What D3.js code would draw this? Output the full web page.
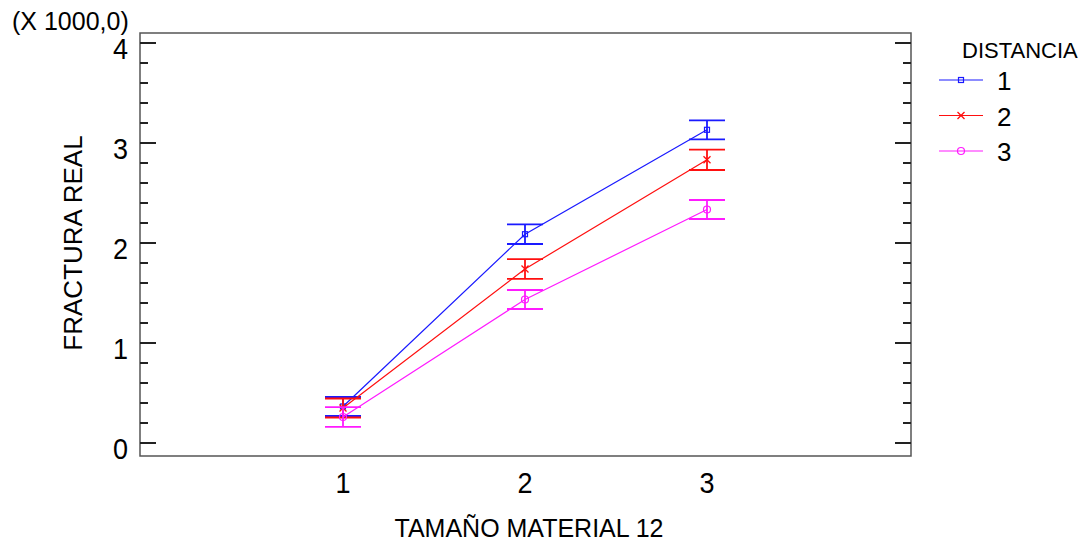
<!DOCTYPE html>
<html>
<head>
<meta charset="utf-8">
<script src="https://cdn.jsdelivr.net/npm/d3@7"></script>
<style>
	body { margin: 0; background: #fff; }
	text { font-family: "Liberation Sans", Arial, Helvetica, sans-serif; fill: #000; }
</style>
</head>
<body>
<svg id="chart" width="1090" height="544"></svg>
<script>

	// categories on the x axis (TAMAÑO MATERIAL 12)
	var sizes = [1, 2, 3];

	// series (DISTANCIA) and their means, in real units
	var distances = ['1', '2', '3'];
	var meanDist1 = [365, 2088, 3132];
	var meanDist2 = [350, 1740, 2832];
	var meanDist3 = [260, 1435, 2335];

	// half width of each interval
	var halfDist1 = [95, 98, 95];
	var halfDist2 = [95, 98, 102];
	var halfDist3 = [98, 95, 95];

	var yTicks = [0, 1000, 2000, 3000, 4000];

	var colorsList = ['#1a1aff', '#ff0f0f', '#ff1aff'];
	var markers = ['square', 'cross', 'circle'];

	var series = distances.map(function(d, i) {
		var means = [meanDist1, meanDist2, meanDist3][i];
		var halfs = [halfDist1, halfDist2, halfDist3][i];
		return {
			key: d,
			color: colorsList[i],
			marker: markers[i],
			values: sizes.map(function(s, j) {
				return { x: s, y: means[j], lo: means[j] - halfs[j], hi: means[j] + halfs[j] };
			})
		};
	});

	var svg = d3.select("#chart");

	var pLeft = 140, pRight = 911, pTop = 33, pBottom = 456;

	var x = d3.scaleLinear()
		.domain([1, 3])
		.range([343, 707]);

	var y = d3.scaleLinear()
		.domain([-130, 4100])
		.range([pBottom, pTop]);

	// frame
	svg.append("rect")
		.attr("x", pLeft)
		.attr("y", pTop)
		.attr("width", pRight - pLeft)
		.attr("height", pBottom - pTop)
		.style("fill", "none")
		.style("stroke", "#555")
		.style("stroke-width", 1.5);

	// ticks, left and right, major every 1000 and minor every 200
	var minor = d3.range(0, 4001, 200);
	var ticks = svg.append("g").attr("class", "ticks");
	minor.forEach(function(v) {
		var len = (v % 1000 == 0) ? 16 : 8;
		ticks.append("line")
			.attr("x1", pLeft).attr("x2", pLeft + len)
			.attr("y1", y(v)).attr("y2", y(v));
		ticks.append("line")
			.attr("x1", pRight).attr("x2", pRight - len)
			.attr("y1", y(v)).attr("y2", y(v));
	});
	ticks.selectAll("line")
		.style("stroke", "#222")
		.style("stroke-width", 1.5)
		.style("shape-rendering", "crispEdges");

	// tick labels, a bit narrow like the original
	svg.append("g")
		.selectAll("text")
		.data(yTicks)
		.enter().append("text")
		.attr("transform", function(d) { return "translate(128," + (y(d) + 16) + ") scale(0.9,1)"; })
		.style("text-anchor", "end")
		.style("font-size", "30px")
		.text(function(d) { return d / 1000; });

	svg.append("g")
		.selectAll("text")
		.data(sizes)
		.enter().append("text")
		.attr("transform", function(d) { return "translate(" + x(d) + ",493) scale(0.9,1)"; })
		.style("text-anchor", "middle")
		.style("font-size", "30px")
		.text(function(d) { return d; });

	// titles
	svg.append("text")
		.attr("x", 12)
		.attr("y", 30)
		.style("font-size", "25px")
		.text("(X 1000,0)");

	svg.append("text")
		.attr("x", 529)
		.attr("y", 537)
		.style("text-anchor", "middle")
		.style("font-size", "25px")
		.text("TAMAÑO MATERIAL 12");

	svg.append("text")
		.attr("transform", "translate(82,243) rotate(-90)")
		.style("text-anchor", "middle")
		.style("font-size", "26px")
		.text("FRACTURA REAL");

	// markers
	function drawMarker(g, type, color, cx, cy) {
		if (type == 'square') {
			g.append("rect")
				.attr("x", cx - 2.5).attr("y", cy - 2.5)
				.attr("width", 5).attr("height", 5)
				.style("fill", "none").style("stroke", color).style("stroke-width", 1.2);
		} else if (type == 'cross') {
			g.append("path")
				.attr("d", "M" + (cx - 3.5) + "," + (cy - 3.5) + "L" + (cx + 3.5) + "," + (cy + 3.5) +
					"M" + (cx + 3.5) + "," + (cy - 3.5) + "L" + (cx - 3.5) + "," + (cy + 3.5))
				.style("fill", "none").style("stroke", color).style("stroke-width", 1.3);
		} else {
			g.append("circle")
				.attr("cx", cx).attr("cy", cy).attr("r", 3.5)
				.style("fill", "none").style("stroke", color).style("stroke-width", 1.2);
		}
	}

	var line = d3.line()
		.x(function(d) { return x(d.x); })
		.y(function(d) { return y(d.y); });

	var groups = svg.selectAll("g.serie")
		.data(series)
		.enter().append("g")
		.attr("class", "serie");

	groups.each(function(s) {
		var g = d3.select(this);

		g.append("path")
			.attr("d", line(s.values))
			.style("fill", "none")
			.style("stroke", s.color)
			.style("stroke-width", 1.2);

		s.values.forEach(function(d) {
			var cx = x(d.x);
			g.append("line")
				.attr("x1", cx).attr("x2", cx)
				.attr("y1", y(d.lo)).attr("y2", y(d.hi));
			g.append("line")
				.attr("x1", cx - 18).attr("x2", cx + 18)
				.attr("y1", y(d.lo)).attr("y2", y(d.lo));
			g.append("line")
				.attr("x1", cx - 18).attr("x2", cx + 18)
				.attr("y1", y(d.hi)).attr("y2", y(d.hi));
			drawMarker(g, s.marker, s.color, cx, y(d.y));
		});

		g.selectAll("line")
			.style("stroke", s.color)
			.style("stroke-width", 1.8);
	});

	// legend
	var legend = svg.append("g").attr("class", "legend");

	legend.append("text")
		.attr("x", 962)
		.attr("y", 58)
		.style("font-size", "22px")
		.text("DISTANCIA");

	series.forEach(function(s, i) {
		var ly = 80 + i * 35.5;
		legend.append("line")
			.attr("x1", 939).attr("x2", 983)
			.attr("y1", ly).attr("y2", ly)
			.style("stroke", s.color)
			.style("stroke-width", 1.2);
		drawMarker(legend, s.marker, s.color, 961, ly);
		legend.append("text")
			.attr("x", 997)
			.attr("y", ly + 10)
			.style("font-size", "26px")
			.text(s.key);
	});

</script>
</body>
</html>
